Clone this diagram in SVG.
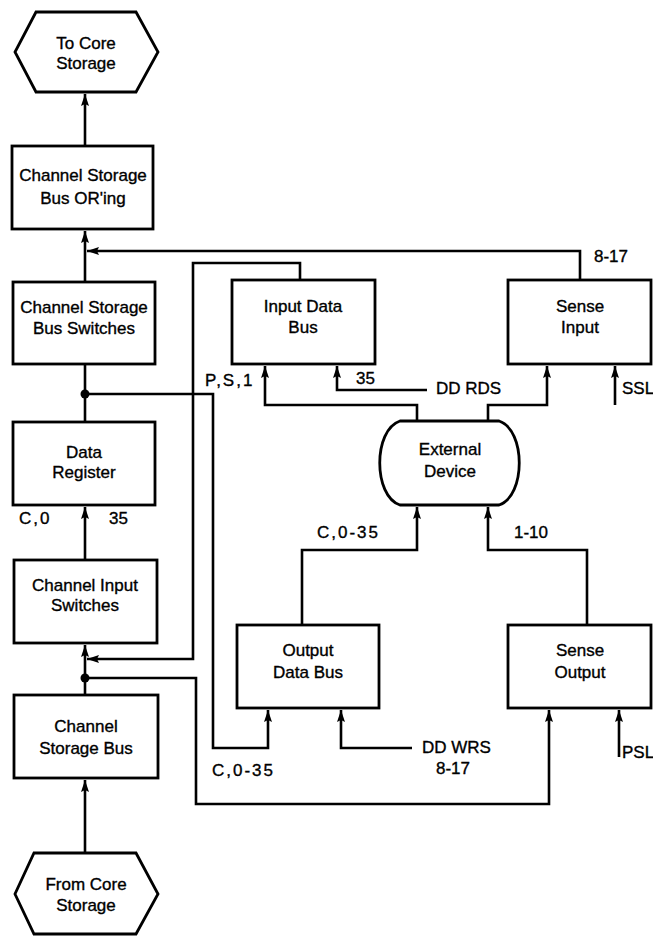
<svg xmlns="http://www.w3.org/2000/svg" width="653" height="936" viewBox="0 0 653 936">
<defs>
<marker id="ah" viewBox="0 0 12 8" refX="12" refY="4" markerWidth="12" markerHeight="8" markerUnits="userSpaceOnUse" orient="auto">
<path d="M0,0 L12,4 L0,8 L2,4 Z" fill="#000"/>
</marker>
<style>
.box{fill:#fff;stroke:#000;stroke-width:2.8}
.ln{fill:none;stroke:#000;stroke-width:2.6}
.ar{fill:none;stroke:#000;stroke-width:2.6;marker-end:url(#ah)}
text{font-family:"Liberation Sans",Arial,sans-serif;font-size:17px;fill:#000;stroke:#000;stroke-width:0.35}
.c{text-anchor:middle}
.sp{letter-spacing:2px}
</style>
</defs>
<rect width="653" height="936" fill="#fff"/>
<g id="connectors">
<path class="ar" d="M85,146 V94"/>
<path class="ar" d="M85,282 V231"/>
<path class="ar" d="M580,280 V251 H87"/>
<path class="ln" d="M85,422 V364"/>
<path class="ar" d="M85,394 H213 V748 H268 V710"/>
<path class="ar" d="M85,560 V507"/>
<path class="ar" d="M300,280 V263 H193 V659 H87"/>
<path class="ar" d="M85,695 V645"/>
<path class="ar" d="M85,678 H196 V804 H549 V710"/>
<path class="ar" d="M85,852 V780"/>
<path class="ar" d="M417,422 V405 H265 V366"/>
<path class="ar" d="M427,390 H337 V366"/>
<path class="ar" d="M488,422 V405 H547 V366"/>
<path class="ar" d="M615,405 V366"/>
<path class="ar" d="M302,625 V550 H417 V507"/>
<path class="ar" d="M587,625 V550 H488 V507"/>
<path class="ar" d="M412,748 H341 V710"/>
<path class="ar" d="M619,757 V710"/>
<circle cx="85" cy="394" r="4.5" fill="#000"/>
<circle cx="85" cy="678" r="4.5" fill="#000"/>
</g>
<g id="labels">
<text x="594" y="262">8-17</text>
<text class="sp" x="205" y="386">P,S,1</text>
<text x="356" y="384">35</text>
<text x="436" y="394">DD RDS</text>
<text x="622" y="394">SSL</text>
<text class="sp" x="19" y="524">C,0</text>
<text x="109" y="524">35</text>
<text class="sp" x="317" y="538">C,0-35</text>
<text x="514" y="538">1-10</text>
<text x="422" y="753">DD WRS</text>
<text x="436" y="774">8-17</text>
<text class="sp" x="212" y="776">C,0-35</text>
<text x="622" y="758">PSL</text>
</g>
<g id="to-core">
<polygon class="box" points="36,12 136,12 158,52 136,92 36,92 15,52"/>
<text class="c" x="86" y="49">To Core</text>
<text class="c" x="86" y="69">Storage</text>
</g>
<g id="bus-oring">
<rect class="box" x="12" y="146" width="141" height="83"/>
<text class="c" x="83" y="181">Channel Storage</text>
<text class="c" x="83" y="204">Bus OR'ing</text>
</g>
<g id="bus-switches">
<rect class="box" x="13" y="282" width="142" height="82"/>
<text class="c" x="84" y="313">Channel Storage</text>
<text class="c" x="84" y="334">Bus Switches</text>
</g>
<g id="data-register">
<rect class="box" x="13" y="422" width="142" height="83"/>
<text class="c" x="84" y="458">Data</text>
<text class="c" x="84" y="478">Register</text>
</g>
<g id="channel-input-switches">
<rect class="box" x="14" y="560" width="143" height="83"/>
<text class="c" x="85" y="591">Channel Input</text>
<text class="c" x="85" y="611">Switches</text>
</g>
<g id="channel-storage-bus">
<rect class="box" x="14" y="695" width="144" height="83"/>
<text class="c" x="86" y="732">Channel</text>
<text class="c" x="86" y="754">Storage Bus</text>
</g>
<g id="from-core">
<polygon class="box" points="34,853 136,853 158,894 136,934 34,934 15,894"/>
<text class="c" x="86" y="890">From Core</text>
<text class="c" x="86" y="911">Storage</text>
</g>
<g id="input-data-bus">
<rect class="box" x="232" y="280" width="143" height="84"/>
<text class="c" x="303" y="312">Input Data</text>
<text class="c" x="303" y="333">Bus</text>
</g>
<g id="sense-input">
<rect class="box" x="508" y="280" width="143" height="84"/>
<text class="c" x="580" y="312">Sense</text>
<text class="c" x="580" y="333">Input</text>
</g>
<g id="external-device">
<path class="box" d="M400,421 L499,421 C526,430 526,496 499,505 L400,505 C373,496 373,430 400,421 Z"/>
<text class="c" x="450" y="455">External</text>
<text class="c" x="450" y="477">Device</text>
</g>
<g id="output-data-bus">
<rect class="box" x="237" y="625" width="142" height="83"/>
<text class="c" x="308" y="656">Output</text>
<text class="c" x="308" y="678">Data Bus</text>
</g>
<g id="sense-output">
<rect class="box" x="508" y="625" width="143" height="83"/>
<text class="c" x="580" y="656">Sense</text>
<text class="c" x="580" y="678">Output</text>
</g>
</svg>
